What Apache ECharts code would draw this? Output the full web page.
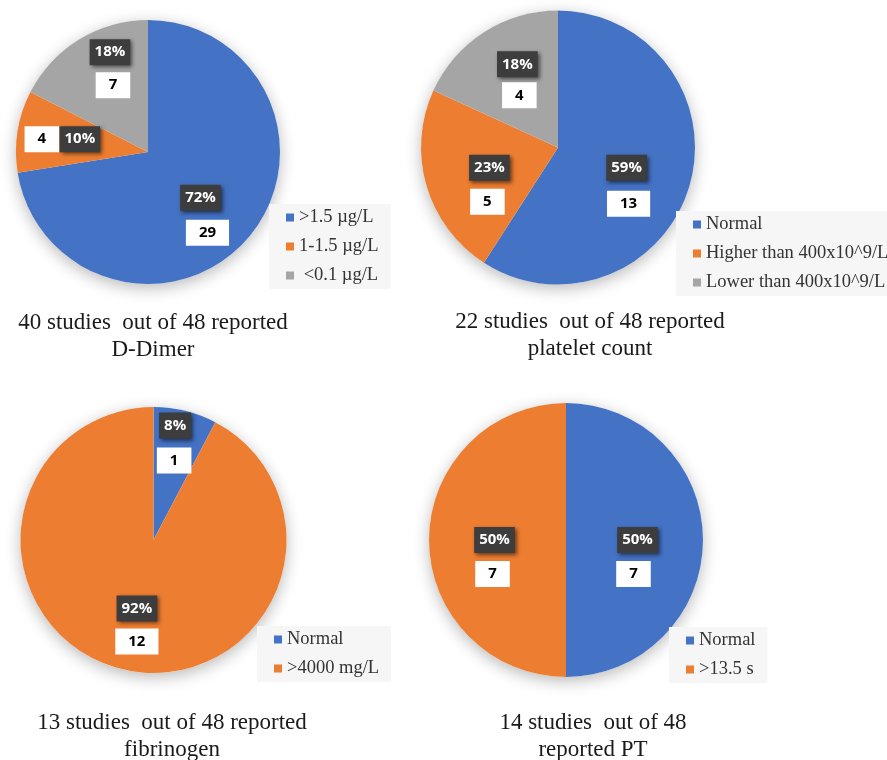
<!DOCTYPE html>
<html><head><meta charset="utf-8">
<script src="https://cdn.jsdelivr.net/npm/echarts@6/dist/echarts.min.js"></script>
<style>html,body{margin:0;padding:0;background:#fff}#c{width:887px;height:760px}</style>
</head><body><div id="c"></div>
<script>
// ---------- DATA ----------
const dDimerCategories = ['>1.5 µg/L', '1-1.5 µg/L', ' <0.1 µg/L'];
const dDimerCounts = [29, 4, 7];
const dDimerPercentLabels = ['72%', '10%', '18%'];
const dDimerTitle = ['40 studies  out of 48 reported', 'D-Dimer'];

const plateletCategories = ['Normal', 'Higher than 400x10^9/L', 'Lower than 400x10^9/L'];
const plateletCounts = [13, 5, 4];
const plateletPercentLabels = ['59%', '23%', '18%'];
const plateletTitle = ['22 studies  out of 48 reported', 'platelet count'];

const fibrinogenCategories = ['Normal', '>4000 mg/L'];
const fibrinogenCounts = [1, 12];
const fibrinogenPercentLabels = ['8%', '92%'];
const fibrinogenTitle = ['13 studies  out of 48 reported', 'fibrinogen'];

const ptCategories = ['Normal', '>13.5 s'];
const ptCounts = [7, 7];
const ptPercentLabels = ['50%', '50%'];
const ptTitle = ['14 studies  out of 48', 'reported PT'];

// ---------- STYLE / LAYOUT ----------
const BLUE = '#4472C4', ORANGE = '#ED7D31', GRAY = '#A5A5A5';
const panels = [
  { cats: dDimerCategories, counts: dDimerCounts, pcts: dDimerPercentLabels, title: dDimerTitle,
    colors: [BLUE, ORANGE, GRAY], center: [148, 152], radius: 132,
    legend: { left: 269, top: 204 }, titleX: 153, titleTop: 309,
    pctOffset: [[0, 1], [0, -2], [-2, -41]], valOffset: [[7, 36], [-38, -2], [1, -8]] },
  { cats: plateletCategories, counts: plateletCounts, pcts: plateletPercentLabels, title: plateletTitle,
    colors: [BLUE, ORANGE, GRAY], center: [558, 147.5], radius: 137,
    legend: { left: 676, top: 211 }, titleX: 590, titleTop: 308.5,
    pctOffset: [[0, 0], [0, 0], [-2, -23]], valOffset: [[2, 36], [-2, 34], [0, 8]] },
  { cats: fibrinogenCategories, counts: fibrinogenCounts, pcts: fibrinogenPercentLabels, title: fibrinogenTitle,
    colors: [BLUE, ORANGE], center: [153.5, 540], radius: 133,
    legend: { left: 257, top: 626 }, titleX: 172, titleTop: 709.5,
    pctOffset: [[5, -47], [0, 1]], valOffset: [[4, -12], [0, 34]] },
  { cats: ptCategories, counts: ptCounts, pcts: ptPercentLabels, title: ptTitle,
    colors: [BLUE, ORANGE], center: [566, 540], radius: 137,
    legend: { left: 669, top: 627 }, titleX: 593, titleTop: 709.5,
    pctOffset: [[0, 0], [0, 0]], valOffset: [[-4, 34], [-2, 34]] }
];

const series = [], legends = [], titles = [];
panels.forEach(function (p, pi) {
  const total = p.counts.reduce(function (a, b) { return a + b; }, 0);
  // soft shadow disc underneath
  series.push({
    type: 'pie', silent: true, z: 1, center: p.center, radius: p.radius, startAngle: 90,
    label: { show: false }, labelLine: { show: false }, emphasis: { disabled: true },
    itemStyle: { color: '#ffffff', borderWidth: 0, shadowBlur: 16, shadowOffsetY: 4, shadowColor: 'rgba(0,0,0,0.28)' },
    data: [{ value: total, name: 'bg' + pi }]
  });
  // slices + percentage labels
  series.push({
    type: 'pie', z: 2, center: p.center, radius: p.radius, startAngle: 90, clockwise: true,
    avoidLabelOverlap: false, emphasis: { disabled: true }, labelLine: { show: false },
    labelLayout: { hideOverlap: false },
    itemStyle: { borderWidth: 0 },
    label: {
      show: true, position: 'inside',
      formatter: function (param) { return p.pcts[param.dataIndex]; },
      color: '#fff', fontFamily: 'Open Sans', fontWeight: 'bold', fontSize: 15, lineHeight: 17,
      backgroundColor: '#3d3d3d', padding: [5, 5, 4, 5],
      shadowBlur: 4, shadowOffsetX: 2, shadowOffsetY: 2, shadowColor: 'rgba(0,0,0,0.55)'
    },
    data: p.counts.map(function (v, i) {
      return { value: v, name: p.cats[i], itemStyle: { color: p.colors[i] }, label: { offset: p.pctOffset[i] } };
    })
  });
  // value labels
  series.push({
    type: 'pie', z: 3, silent: true, center: p.center, radius: p.radius, startAngle: 90, clockwise: true,
    avoidLabelOverlap: false, emphasis: { disabled: true }, labelLine: { show: false },
    labelLayout: { hideOverlap: false },
    itemStyle: { color: 'rgba(0,0,0,0)', borderWidth: 0 },
    label: {
      show: true, position: 'inside', formatter: '{c}',
      color: '#000', fontFamily: 'Open Sans', fontWeight: 'bold', fontSize: 15, lineHeight: 17,
      backgroundColor: '#ffffff', padding: [5, 13, 4, 13]
    },
    data: p.counts.map(function (v, i) {
      return { value: v, name: p.cats[i], label: { offset: p.valOffset[i] } };
    })
  });
  legends.push({
    orient: 'vertical', left: p.legend.left, top: p.legend.top,
    backgroundColor: '#f6f6f6', padding: [4, 12, 4, 17], itemGap: 10,
    itemWidth: 8, itemHeight: 8, itemTextGap: 3, icon: 'rect', selectedMode: false,
    textStyle: { fontFamily: 'Liberation Serif', fontSize: 18.5, color: '#333' },
    data: p.cats.map(function (c, i) { return { name: c, itemStyle: { color: p.colors[i] } }; })
  });
  titles.push({
    text: p.title.join('\n'), left: p.titleX, top: p.titleTop, textAlign: 'center', padding: 0,
    textStyle: { fontFamily: 'Liberation Serif', fontSize: 23, fontWeight: 'normal', color: '#1a1a1a', lineHeight: 27 }
  });
});

const chart = echarts.init(document.getElementById('c'), null, { renderer: 'canvas' });
chart.setOption({ backgroundColor: '#ffffff', animation: false, title: titles, legend: legends, series: series });
</script>
</body></html>
